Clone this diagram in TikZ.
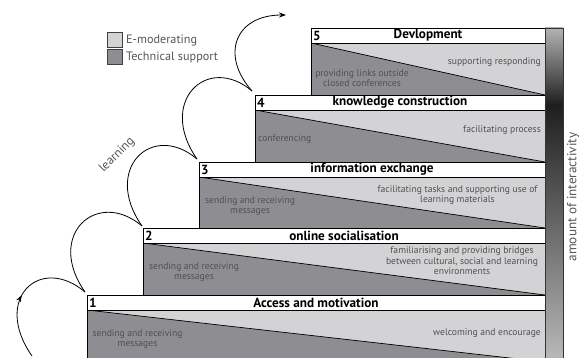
\documentclass[tikz,border=0pt]{standalone}
\usepackage{fontspec}
\setmainfont{PT Sans}
\usetikzlibrary{arrows.meta,decorations.markings}
\definecolor{lightg}{HTML}{D3D3D5}
\definecolor{darkg}{HTML}{8E8E92}
\definecolor{txtg}{HTML}{505050}
\definecolor{legtxt}{HTML}{555555}
\tikzset{
  hdr/.style={draw=black,line width=0.8pt,fill=white},
  bodyline/.style={draw=black,line width=0.7pt},
  hdrtitle/.style={font=\fontsize{13.2}{14}\selectfont\bfseries,anchor=center,inner sep=0pt},
  hdrnum/.style={font=\fontsize{13.2}{14}\selectfont\bfseries,anchor=west,inner sep=0pt},
  btext/.style={font=\fontsize{9.6}{10.6}\selectfont,text=txtg,align=center,inner sep=0pt},
  legtext/.style={font=\fontsize{12.2}{13}\selectfont,text=legtxt,anchor=west,inner sep=0pt},
  loopline/.style={line width=0.8pt,black},
  legbox/.style={draw=black!75,line width=0.6pt}
}
\begin{document}
\begin{tikzpicture}[x=1pt,y=-1pt]
\useasboundingbox (0,0) rectangle (579,358);
\begin{scope}
\clip (0,0) rectangle (579,358);
\foreach \x/\y/\b in {87/295/362, 143/228/295, 199/162/228, 255/95/162, 311/28/95} {
  \fill[lightg] ({\x},{\y+15}) rectangle (545,{\b});
  \fill[darkg] ({\x},{\y+15}) -- (545,{\b}) -- ({\x},{\b}) -- cycle;
  \draw[bodyline] ({\x},{\y+15}) -- (545,{\b});
  \draw[bodyline] ({\x},{\b}) -- ({\x},{\y+15});
  \draw[hdr] ({\x},{\y}) rectangle (545,{\y+15});
}
% bar
\shade[top color=black!30,bottom color=black!88] (545,28) rectangle (563,105);
\shade[top color=black!88,bottom color=black!28] (545,105) rectangle (563,358);
\draw[line width=0.7pt,black!80] (545,28) rectangle (563,362);
\end{scope}

% headers
\node[hdrnum] (n1) at (89,302.5) {1};
\node[hdrtitle] (t1) at (316,302.5) {Access and motivation};
\node[hdrnum] (n2) at (145,235.5) {2};
\node[hdrtitle] (t2) at (344,235.5) {online socialisation};
\node[hdrnum] (n3) at (201,169.5) {3};
\node[hdrtitle] (t3) at (372,169.5) {information exchange};
\node[hdrnum] (n4) at (257,102.5) {4};
\node[hdrtitle] (t4) at (400,102.5) {knowledge construction};
\node[hdrnum] (n5) at (313,35.5) {5};
\node[hdrtitle] (t5) at (428,35.5) {Devlopment};

% body texts
\node[btext] (s5l) at (362,78) {providing links outside\\closed conferences};
\node[btext,anchor=east] (s5r) at (541,62) {supporting responding};
\node[btext,anchor=west] (s4l) at (258,139) {conferencing};
\node[btext,anchor=east] (s4r) at (541,130) {facilitating process};
\node[btext] (s3l) at (250,206) {sending and receiving\\messages};
\node[btext] (s3r) at (457.5,195) {facilitating tasks and supporting use of\\learning materials};
\node[btext] (s2l) at (194,272) {sending and receiving\\messages};
\node[btext] (s2r) at (462,261) {familiarising and providing bridges\\between cultural, social and learning\\environments};
\node[btext] (s1l) at (137.5,339) {sending and receiving\\messages};
\node[btext,anchor=east] (s1r) at (541,333) {welcoming and encourage};

% legend
\draw[legbox,fill=lightg] (107,32) rectangle (122,47);
\draw[legbox,fill=darkg] (107,49) rectangle (122,64);
\node[legtext] (l1) at (126,40) {E-moderating};
\node[legtext] (l2) at (126,57) {Technical support};

% side labels
\node[font=\fontsize{12.5}{13}\selectfont,text=legtxt,rotate=45,inner sep=0pt] (learn) at (117,155) {learning};
\node[font=\fontsize{13.2}{14}\selectfont,text=legtxt,rotate=90,inner sep=0pt] (amt) at (573,197) {amount of interactivity};

% loops
\coordinate (g0) at (32,356);
\coordinate (c1) at (85,292);
\coordinate (c2) at (142,226);
\coordinate (c3) at (197,159);
\coordinate (c4) at (252,91);
\coordinate (e5) at (286,15);
\draw[loopline,postaction={decorate},decoration={markings,mark=at position 0.47 with {\arrow{Stealth[length=7pt,width=5pt]}}}]
  (g0) .. controls (-8,299) and (40,254) .. (c1);
\draw[loopline] (c1) .. controls (45,235) and (97,188) .. (c2);
\draw[loopline] (c2) .. controls (102,169) and (152,121) .. (c3);
\draw[loopline] (c3) .. controls (157,102) and (207,53) .. (c4);
\draw[loopline,-{Stealth[length=7pt,width=5pt]}] (c4) .. controls (220,55) and (235,15) .. (e5);
\end{tikzpicture}
\end{document}
